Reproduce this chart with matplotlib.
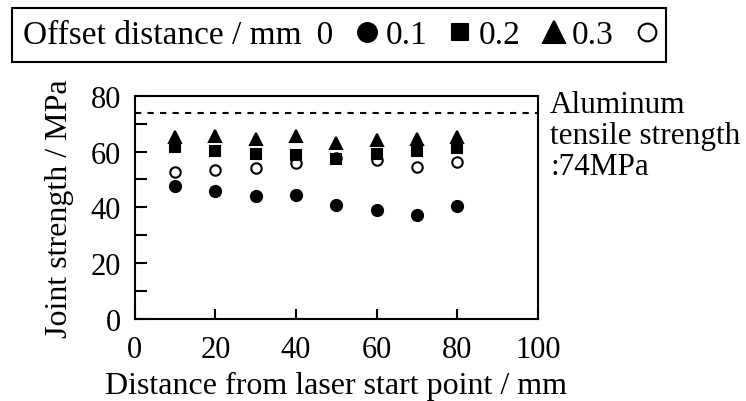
import numpy as np
import matplotlib.pyplot as plt
from matplotlib.ticker import MultipleLocator

plt.rcParams['font.family'] = ['Liberation Serif', 'DejaVu Serif']

# joint strength (MPa) at each distance from the laser start point (mm)
distance = [10, 20, 30, 40, 50, 60, 70, 80]
offset_labels = ['0', '0.1', '0.2', '0.3']
strength_00 = [47.6, 46.0, 43.9, 44.3, 40.9, 39.1, 37.2, 40.4]
strength_01 = [61.8, 60.1, 59.1, 58.7, 57.4, 59.2, 60.1, 61.2]
strength_02 = [65.2, 65.5, 64.5, 65.5, 63.1, 64.2, 64.5, 65.2]
strength_03 = [52.6, 53.5, 54.0, 55.9, 57.8, 57.1, 54.4, 56.3]
al_strength = 74

fig = plt.figure(figsize=(7.46, 4.02), dpi=100)
ax = fig.add_axes([0.1806, 0.2052, 0.5406, 0.5535])

series = [strength_00, strength_01, strength_02, strength_03]
markers = ['o', 's', '^', 'o']
sizes = [8, 7, 9, 7.5]
faces = ['black', 'black', 'black', 'none']
handles = []
for vals, m, ms, fc in zip(series, markers, sizes, faces):
    h, = ax.plot(distance, vals, linestyle='none', marker=m, markersize=ms,
                 markerfacecolor=fc, markeredgecolor='black', markeredgewidth=1.5)
    handles.append(h)

ax.axhline(al_strength, color='black', lw=1.5, dashes=(3, 3))
ax.text(103, 82.3, 'Aluminum\ntensile strength\n:%dMPa' % al_strength,
        fontsize=22.5, va='top', ha='left', clip_on=False, linespacing=1.1)

ax.set_xlim(0, 100)
ax.set_ylim(0, 80)
ax.xaxis.set_major_locator(MultipleLocator(20))
ax.yaxis.set_major_locator(MultipleLocator(20))
ax.yaxis.set_minor_locator(MultipleLocator(10))
ax.tick_params(axis='both', which='both', direction='in', width=1.5,
               labelsize=22, top=False, right=False)
ax.tick_params(axis='y', which='both', length=8.5, pad=10)
ax.tick_params(axis='x', which='both', length=7, pad=12)
for s in ax.spines.values():
    s.set_linewidth(1.5)

ax.set_xlabel('Distance from laser start point / mm', fontsize=23, labelpad=5)
ax.set_ylabel('Joint strength / MPa', fontsize=23, labelpad=12)

labels = ['Offset distance / mm \u2009' + offset_labels[0]] + offset_labels[1:]
leg = fig.legend(handles, labels, loc='upper left',
                 bbox_to_anchor=(11.7 / 746, 1 - 9.3 / 402), borderaxespad=0,
                 ncol=4, markerfirst=False, fontsize=24, markerscale=1.7,
                 handlelength=0.4, handletextpad=0.8, columnspacing=0.35,
                 borderpad=0.35, fancybox=False, framealpha=1)
leg.get_frame().set_edgecolor('black')
leg.get_frame().set_linewidth(1.5)

fig.savefig('out.png', dpi=100)
